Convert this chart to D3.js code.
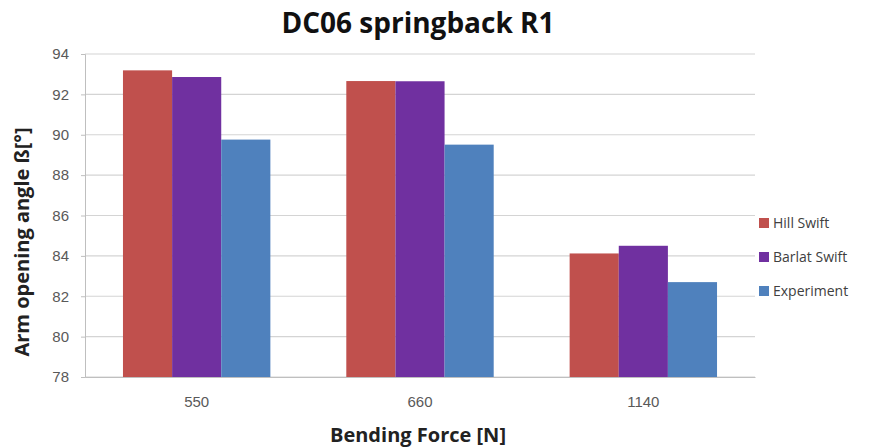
<!DOCTYPE html>
<html>
<head>
<meta charset="utf-8">
<script src="https://cdn.jsdelivr.net/npm/d3@7"></script>
<style>
  body { margin: 0; background: #fff; }
  svg { display: block; font-family: "Open Sans", "Liberation Sans", sans-serif; }
</style>
</head>
<body>
<svg id="chart" width="869" height="448"></svg>
<script>
const categories = ["550", "660", "1140"];
const seriesNames = ["Hill Swift", "Barlat Swift", "Experiment"];
const hillSwift = [93.19, 92.66, 84.12];
const barlatSwift = [92.86, 92.65, 84.5];
const experiment = [89.76, 89.51, 82.7];
const yTicks = [78, 80, 82, 84, 86, 88, 90, 92, 94];
const colors = ["#C0504D", "#7030A0", "#4F81BD"];

const seriesValues = [hillSwift, barlatSwift, experiment];
const svg = d3.select("#chart");
const margin = { left: 85, right: 114, top: 54, bottom: 71 };
const W = 869, H = 448;

const x0 = d3.scaleBand().domain(categories).range([margin.left, W - margin.right]).paddingInner(0.34).paddingOuter(0.17);
const x1 = d3.scaleBand().domain(seriesNames).range([0, x0.bandwidth()]);
const y = d3.scaleLinear().domain([78, 94]).range([H - margin.bottom, margin.top]);

// horizontal gridlines
svg.append("g").selectAll("line").data(yTicks).join("line")
  .attr("x1", margin.left).attr("x2", W - margin.right)
  .attr("y1", d => y(d)).attr("y2", d => y(d))
  .attr("stroke", "#d4d4d4").attr("stroke-width", 1.2);

// grouped bars
categories.forEach((c, ci) => {
  svg.append("g").selectAll("rect").data(seriesNames).join("rect")
    .attr("x", s => x0(c) + x1(s))
    .attr("width", x1.bandwidth())
    .attr("y", (s, si) => y(seriesValues[si][ci]))
    .attr("height", (s, si) => y(78) - y(seriesValues[si][ci]))
    .attr("fill", (s, si) => colors[si]);
});

// y axis
const yAxis = d3.axisLeft(y).tickValues(yTicks).tickSize(4).tickPadding(12);
const gy = svg.append("g").attr("transform", `translate(${margin.left},0)`).call(yAxis);
gy.select(".domain").attr("stroke", "#bfbfbf");
gy.selectAll(".tick line").attr("stroke", "#bfbfbf");
gy.selectAll("text").attr("fill", "#595959").style("font-size", "15px");

// x axis
const xAxis = d3.axisBottom(x0).tickSize(0).tickPadding(19);
const gx = svg.append("g").attr("transform", `translate(0,${H - margin.bottom})`).call(xAxis);
gx.select(".domain").attr("stroke", "#bfbfbf");
gx.selectAll("text").attr("fill", "#595959").style("font-size", "15px");

// titles
svg.append("text").attr("x", 418).attr("y", 33).attr("text-anchor", "middle")
  .style("font-size", "28px").style("font-weight", "bold").attr("fill", "#111")
  .text("DC06 springback R1");
svg.append("text").attr("x", 418).attr("y", 442).attr("text-anchor", "middle")
  .style("font-size", "20px").style("font-weight", "bold").attr("fill", "#222")
  .text("Bending Force [N]");
svg.append("text").attr("transform", "translate(29,242) rotate(-90)").attr("text-anchor", "middle")
  .style("font-size", "20px").style("font-weight", "bold").attr("fill", "#222")
  .text("Arm opening angle ß[°]");

// legend
const legend = svg.append("g").selectAll("g").data(seriesNames).join("g")
  .attr("transform", (d, i) => `translate(759,${223 + i * 34})`);
legend.append("rect").attr("x", 0).attr("y", -5).attr("width", 10).attr("height", 10)
  .attr("fill", (d, i) => colors[i]);
legend.append("text").attr("x", 14).attr("y", 5).style("font-size", "14px")
  .attr("fill", "#404040").text(d => d);
</script>
</body>
</html>
